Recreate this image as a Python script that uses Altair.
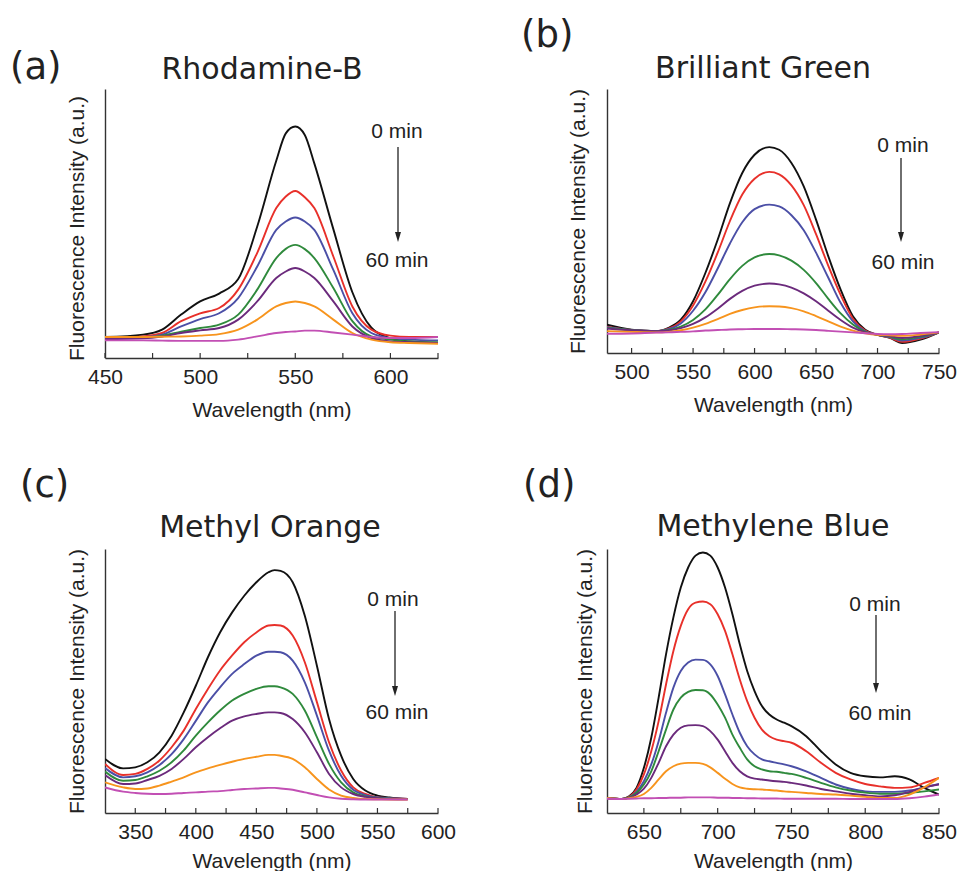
import altair as alt
import pandas as pd

# ---------------- data ----------------
SERIES = ["0 min", "10 min", "20 min", "30 min", "40 min", "50 min", "60 min"]
COLORS = ["#111111", "#e8302a", "#4b4fa6", "#2f8a3c", "#6b2a7c", "#f7941d", "#c24fb4"]

# (a) Rhodamine-B  (relative intensity, fraction of a 263-px-high frame)
RB_WL = [450, 470, 480, 490, 500, 510, 520, 530, 540, 545, 550, 555, 560, 570, 580, 590, 600, 610, 625]
RB_0 = [0.080, 0.089, 0.108, 0.165, 0.215, 0.245, 0.300, 0.500, 0.750, 0.854, 0.880, 0.848, 0.740, 0.490, 0.250, 0.115, 0.075, 0.063, 0.057]
RB_1 = [0.076, 0.082, 0.095, 0.140, 0.170, 0.190, 0.260, 0.400, 0.570, 0.614, 0.635, 0.611, 0.570, 0.386, 0.196, 0.108, 0.085, 0.080, 0.080]
RB_2 = [0.076, 0.080, 0.089, 0.120, 0.148, 0.170, 0.228, 0.348, 0.487, 0.519, 0.534, 0.519, 0.487, 0.335, 0.170, 0.095, 0.076, 0.070, 0.067]
RB_3 = [0.076, 0.077, 0.085, 0.100, 0.114, 0.127, 0.165, 0.260, 0.380, 0.415, 0.430, 0.414, 0.380, 0.266, 0.140, 0.082, 0.070, 0.063, 0.060]
RB_4 = [0.072, 0.075, 0.082, 0.095, 0.105, 0.114, 0.146, 0.215, 0.304, 0.329, 0.342, 0.329, 0.304, 0.215, 0.120, 0.076, 0.063, 0.060, 0.057]
RB_5 = [0.080, 0.080, 0.081, 0.082, 0.085, 0.091, 0.108, 0.146, 0.196, 0.209, 0.215, 0.209, 0.196, 0.146, 0.095, 0.070, 0.060, 0.057, 0.054]
RB_6 = [0.067, 0.067, 0.066, 0.065, 0.065, 0.065, 0.070, 0.082, 0.095, 0.099, 0.101, 0.104, 0.104, 0.097, 0.089, 0.080, 0.076, 0.076, 0.080]

# (b) Brilliant Green
BG_WL = [480, 500, 520, 530, 540, 550, 560, 570, 580, 590, 600, 612, 620, 630, 640, 650, 660, 670, 680, 690, 700, 710, 720, 735, 750]
BG_0 = [0.107, 0.088, 0.082, 0.095, 0.126, 0.196, 0.303, 0.429, 0.568, 0.682, 0.751, 0.780, 0.770, 0.720, 0.631, 0.505, 0.366, 0.240, 0.139, 0.088, 0.069, 0.057, 0.038, 0.051, 0.078]
BG_1 = [0.100, 0.087, 0.083, 0.092, 0.120, 0.180, 0.270, 0.380, 0.500, 0.600, 0.660, 0.686, 0.677, 0.635, 0.560, 0.450, 0.330, 0.220, 0.130, 0.085, 0.069, 0.058, 0.042, 0.055, 0.078]
BG_2 = [0.098, 0.087, 0.083, 0.090, 0.112, 0.160, 0.230, 0.320, 0.415, 0.495, 0.545, 0.562, 0.555, 0.522, 0.465, 0.380, 0.285, 0.190, 0.120, 0.082, 0.069, 0.060, 0.047, 0.058, 0.078]
BG_3 = [0.095, 0.087, 0.083, 0.087, 0.100, 0.125, 0.165, 0.220, 0.280, 0.330, 0.362, 0.375, 0.370, 0.350, 0.315, 0.265, 0.205, 0.150, 0.108, 0.080, 0.069, 0.062, 0.052, 0.062, 0.078]
BG_4 = [0.093, 0.086, 0.083, 0.085, 0.094, 0.110, 0.135, 0.168, 0.205, 0.235, 0.255, 0.263, 0.260, 0.248, 0.226, 0.196, 0.160, 0.125, 0.096, 0.078, 0.069, 0.064, 0.057, 0.065, 0.078]
BG_5 = [0.083, 0.080, 0.078, 0.080, 0.086, 0.096, 0.110, 0.128, 0.148, 0.163, 0.173, 0.177, 0.176, 0.170, 0.158, 0.140, 0.120, 0.100, 0.085, 0.075, 0.069, 0.067, 0.065, 0.070, 0.078]
BG_6 = [0.073, 0.074, 0.077, 0.078, 0.080, 0.082, 0.085, 0.087, 0.089, 0.090, 0.091, 0.091, 0.091, 0.090, 0.089, 0.087, 0.084, 0.081, 0.078, 0.075, 0.072, 0.071, 0.072, 0.076, 0.079]

# (c) Methyl Orange
MO_WL = [325, 340, 350, 360, 370, 380, 390, 400, 410, 420, 430, 440, 450, 460, 465, 470, 480, 490, 500, 510, 520, 530, 540, 550, 560, 575]
MO_0 = [0.205, 0.169, 0.173, 0.192, 0.230, 0.293, 0.381, 0.482, 0.590, 0.684, 0.760, 0.823, 0.874, 0.912, 0.920, 0.917, 0.874, 0.747, 0.558, 0.356, 0.217, 0.129, 0.085, 0.066, 0.059, 0.053]
MO_1 = [0.186, 0.144, 0.148, 0.167, 0.199, 0.249, 0.312, 0.394, 0.470, 0.540, 0.597, 0.647, 0.684, 0.710, 0.712, 0.710, 0.672, 0.571, 0.420, 0.268, 0.161, 0.097, 0.072, 0.059, 0.056, 0.053]
MO_2 = [0.170, 0.135, 0.139, 0.154, 0.182, 0.223, 0.280, 0.349, 0.419, 0.476, 0.527, 0.564, 0.596, 0.611, 0.611, 0.609, 0.577, 0.495, 0.369, 0.236, 0.141, 0.088, 0.068, 0.059, 0.056, 0.053]
MO_3 = [0.157, 0.122, 0.125, 0.139, 0.160, 0.192, 0.237, 0.293, 0.343, 0.388, 0.426, 0.451, 0.470, 0.480, 0.480, 0.476, 0.451, 0.388, 0.287, 0.186, 0.116, 0.078, 0.063, 0.057, 0.054, 0.053]
MO_4 = [0.144, 0.110, 0.112, 0.125, 0.141, 0.167, 0.205, 0.249, 0.287, 0.321, 0.350, 0.366, 0.375, 0.381, 0.381, 0.379, 0.356, 0.306, 0.230, 0.148, 0.097, 0.072, 0.061, 0.056, 0.053, 0.052]
MO_5 = [0.116, 0.097, 0.091, 0.093, 0.104, 0.119, 0.135, 0.154, 0.169, 0.182, 0.194, 0.205, 0.213, 0.220, 0.220, 0.217, 0.205, 0.173, 0.129, 0.089, 0.066, 0.057, 0.053, 0.052, 0.051, 0.051]
MO_6 = [0.097, 0.081, 0.076, 0.073, 0.072, 0.073, 0.076, 0.078, 0.081, 0.083, 0.087, 0.091, 0.093, 0.095, 0.095, 0.093, 0.088, 0.078, 0.068, 0.059, 0.054, 0.052, 0.051, 0.051, 0.051, 0.051]

# (d) Methylene Blue
MB_WL = [625, 635, 640, 645, 650, 655, 660, 665, 670, 675, 680, 685, 690, 695, 700, 705, 710, 715, 720, 725, 730, 735, 740, 745, 750, 760, 770, 780, 790, 800, 810, 820, 830, 840, 850]
MB_0 = [0.057, 0.053, 0.063, 0.095, 0.171, 0.285, 0.437, 0.601, 0.741, 0.854, 0.930, 0.975, 0.987, 0.975, 0.930, 0.854, 0.753, 0.639, 0.538, 0.462, 0.405, 0.373, 0.354, 0.342, 0.329, 0.291, 0.234, 0.184, 0.152, 0.139, 0.135, 0.139, 0.127, 0.095, 0.070]
MB_1 = [0.057, 0.053, 0.061, 0.089, 0.146, 0.234, 0.348, 0.487, 0.614, 0.709, 0.772, 0.797, 0.801, 0.791, 0.753, 0.690, 0.601, 0.506, 0.424, 0.361, 0.316, 0.291, 0.278, 0.272, 0.266, 0.234, 0.190, 0.152, 0.127, 0.110, 0.101, 0.095, 0.097, 0.114, 0.133]
MB_2 = [0.057, 0.053, 0.059, 0.080, 0.120, 0.184, 0.272, 0.380, 0.475, 0.538, 0.570, 0.581, 0.580, 0.563, 0.519, 0.449, 0.373, 0.304, 0.253, 0.222, 0.203, 0.196, 0.190, 0.184, 0.177, 0.158, 0.133, 0.108, 0.092, 0.082, 0.080, 0.080, 0.085, 0.097, 0.110]
MB_3 = [0.057, 0.053, 0.059, 0.076, 0.108, 0.158, 0.234, 0.316, 0.392, 0.437, 0.459, 0.466, 0.465, 0.449, 0.411, 0.361, 0.297, 0.247, 0.203, 0.177, 0.165, 0.158, 0.156, 0.152, 0.148, 0.133, 0.114, 0.097, 0.085, 0.077, 0.073, 0.073, 0.076, 0.082, 0.089]
MB_4 = [0.057, 0.053, 0.057, 0.070, 0.092, 0.133, 0.190, 0.253, 0.297, 0.323, 0.332, 0.333, 0.329, 0.310, 0.278, 0.234, 0.190, 0.158, 0.139, 0.130, 0.127, 0.123, 0.120, 0.118, 0.114, 0.104, 0.091, 0.082, 0.073, 0.067, 0.063, 0.067, 0.080, 0.097, 0.108]
MB_5 = [0.057, 0.053, 0.056, 0.061, 0.072, 0.095, 0.127, 0.158, 0.177, 0.187, 0.190, 0.190, 0.186, 0.173, 0.152, 0.130, 0.110, 0.097, 0.092, 0.090, 0.089, 0.087, 0.085, 0.082, 0.080, 0.076, 0.072, 0.070, 0.066, 0.061, 0.057, 0.057, 0.070, 0.097, 0.133]
MB_6 = [0.054, 0.053, 0.054, 0.055, 0.056, 0.056, 0.057, 0.057, 0.058, 0.058, 0.059, 0.059, 0.059, 0.059, 0.058, 0.058, 0.057, 0.057, 0.056, 0.056, 0.055, 0.055, 0.055, 0.054, 0.054, 0.054, 0.054, 0.054, 0.053, 0.053, 0.053, 0.053, 0.056, 0.062, 0.070]

# axis tick values
RB_MAJOR, RB_MINOR = [450, 500, 550, 600], [475, 525, 575, 625]
BG_MAJOR, BG_MINOR = [500, 550, 600, 650, 700, 750], [525, 575, 625, 675, 725]
MO_MAJOR, MO_MINOR = [350, 400, 450, 500, 550, 600], [375, 425, 475, 525, 575]
MB_MAJOR, MB_MINOR = [650, 700, 750, 800, 850], [675, 725, 775, 825]

TXT = "#222222"
SANS = "Liberation Sans"
WIDE = "DejaVu Sans"


def panel(wl, curves, dom, major, minor, label, title, W, H, H0, geo):
    rows = []
    for s, vals in zip(SERIES, curves):
        for w, v in zip(wl, vals):
            rows.append({"wl": w, "I": v, "t": s})
    df = pd.DataFrame(rows)
    xs = alt.Scale(domain=dom, nice=False, zero=False)
    ys = alt.Scale(domain=[0, H / H0], nice=False, zero=False)
    xaxis = alt.Axis(values=major, title="Wavelength (nm)", grid=False, ticks=False, tickSize=0,
                     labelFont=SANS, labelFontSize=21, labelColor=TXT, labelPadding=geo["lp"],
                     labelFlush=False, labelOverlap=False,
                     titleFont=SANS, titleFontSize=21, titleFontWeight="normal",
                     titleColor=TXT, titlePadding=geo["tp"],
                     domainColor="#333333", domainWidth=1.4, format="d")
    yaxis = alt.Axis(labels=False, ticks=False, tickSize=0, grid=False,
                     title="Fluorescence Intensity (a.u.)", titleFont=SANS, titleFontSize=21,
                     titleFontWeight="normal", titleColor=TXT, titleX=geo["ytx"], titleY=geo["yty"],
                     titleAngle=270, titleAlign="center", titleBaseline="middle",
                     domainColor="#333333", domainWidth=1.4)
    lines = alt.Chart(df).mark_line(strokeWidth=1.9, interpolate="monotone", clip=True).encode(
        x=alt.X("wl:Q", scale=xs, axis=xaxis),
        y=alt.Y("I:Q", scale=ys, axis=yaxis),
        color=alt.Color("t:N", scale=alt.Scale(domain=SERIES, range=COLORS), legend=None),
    )
    tdf = pd.DataFrame({"wl": major + minor})
    ticks = alt.Chart(tdf).mark_rule(color="#333333", strokeWidth=1.2).encode(
        x=alt.X("wl:Q", scale=xs, axis=xaxis),
        y=alt.value(H),
        y2=alt.value(H - 5),
    )
    one = pd.DataFrame({"k": [0]})
    spacer = alt.Chart(one).mark_rule(strokeOpacity=0, stroke="white").encode(
        x=alt.value(geo["left"]), x2=alt.value(geo["left"] + 1),
        y=alt.value(-geo["top"]), y2=alt.value(-geo["top"] + 1))
    lab = alt.Chart(one).mark_text(text=label, font=WIDE, fontSize=37, color=TXT,
                                   align="left", baseline="alphabetic").encode(
        x=alt.value(geo["lx"]), y=alt.value(geo["ly"]))
    ttl = alt.Chart(one).mark_text(text=title, font=WIDE, fontSize=30, color=TXT,
                                   align="center", baseline="alphabetic").encode(
        x=alt.value(geo["tx"]), y=alt.value(geo["ty"]))
    t0 = alt.Chart(one).mark_text(text="0 min", font=SANS, fontSize=21, color=TXT,
                                  align="center", baseline="alphabetic").encode(
        x=alt.value(geo["ax"]), y=alt.value(geo["a0"]))
    t60 = alt.Chart(one).mark_text(text="60 min", font=SANS, fontSize=21, color=TXT,
                                   align="center", baseline="alphabetic").encode(
        x=alt.value(geo["ax60"]), y=alt.value(geo["a60"]))
    shaft = alt.Chart(one).mark_rule(color="#222222", strokeWidth=1.3).encode(
        x=alt.value(geo["arx"]), y=alt.value(geo["ar1"]), y2=alt.value(geo["ar2"] - 4))
    head = alt.Chart(one).mark_point(shape="M-0.6,-2L0.6,-2L0,0Z", filled=True, size=100,
                                     color="#222222", opacity=1).encode(
        x=alt.value(geo["arx"]), y=alt.value(geo["ar2"]))
    return alt.layer(lines, ticks, spacer, lab, ttl, t0, t60, shaft, head).properties(
        width=W, height=H)


pa = panel(RB_WL, [RB_0, RB_1, RB_2, RB_3, RB_4, RB_5, RB_6], [450, 625], RB_MAJOR, RB_MINOR,
           "(a)", "Rhodamine-B", 333, 269, 263,
           dict(left=-97, top=81, lx=-95, ly=-10, tx=157, ty=-10, ytx=-28, yty=139, lp=8, tp=12,
                ax=292, a0=49, ax60=292, a60=178, arx=293, ar1=58, ar2=153))
pb = panel(BG_WL, [BG_0, BG_1, BG_2, BG_3, BG_4, BG_5, BG_6], [480, 750], BG_MAJOR, BG_MINOR,
           "(b)", "Brilliant Green", 332, 264, 264,
           dict(left=-86, top=81, lx=-86, ly=-42, tx=156, ty=-11, ytx=-29, yty=132, lp=8, tp=12,
                ax=296, a0=63, ax60=296, a60=180, arx=294, ar1=69, ar2=153))
pc = panel(MO_WL, [MO_0, MO_1, MO_2, MO_3, MO_4, MO_5, MO_6], [325, 600], MO_MAJOR, MO_MINOR,
           "(c)", "Methyl Orange", 333, 264, 264,
           dict(left=-97, top=60, lx=-85, ly=-52, tx=165, ty=-12, ytx=-28, yty=132, lp=8, tp=8,
                ax=288, a0=57, ax60=292, a60=170, arx=290, ar1=62, ar2=147))
pd_ = panel(MB_WL, [MB_0, MB_1, MB_2, MB_3, MB_4, MB_5, MB_6], [625, 850], MB_MAJOR, MB_MINOR,
            "(d)", "Methylene Blue", 332, 264, 264,
            dict(left=-84, top=60, lx=-84, ly=-52, tx=166, ty=-13, ytx=-22, yty=132, lp=8, tp=8,
                 ax=268, a0=62, ax60=273, a60=171, arx=269, ar1=66, ar2=144))

chart = alt.concat(pa, pb, pc, pd_, columns=2, spacing={"row": 191, "column": 169},
                   bounds="flush").properties(padding=0, background="white").configure_view(
    strokeWidth=0)

chart.save("out.html", embed_options={"renderer": "svg", "actions": False})
